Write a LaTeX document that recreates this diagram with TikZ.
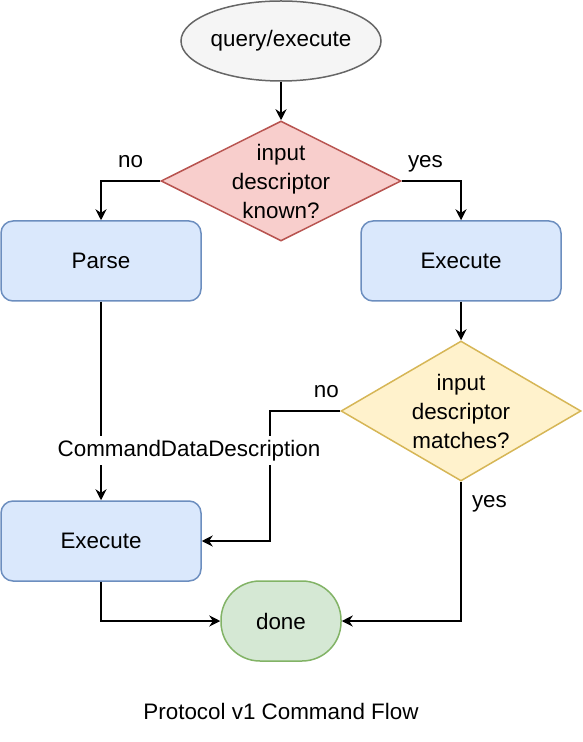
\documentclass[tikz,border=0pt]{standalone}
\usepackage{fontspec}
\setmainfont{Liberation Sans}
\usetikzlibrary{arrows.meta,shapes.geometric}
\definecolor{grayfill}{HTML}{F5F5F5}
\definecolor{grayline}{HTML}{666666}
\definecolor{redfill}{HTML}{F8CECC}
\definecolor{redline}{HTML}{B85450}
\definecolor{bluefill}{HTML}{DAE8FC}
\definecolor{blueline}{HTML}{6C8EBF}
\definecolor{yelfill}{HTML}{FFF2CC}
\definecolor{yelline}{HTML}{D6B656}
\definecolor{grnfill}{HTML}{D5E8D4}
\definecolor{grnline}{HTML}{82B366}
\tikzset{
  txt/.style  ={font=\fontsize{11.2}{14.5}\selectfont},
  start/.style={ellipse,draw=grayline,fill=grayfill,line width=0.75pt,minimum width=100pt,minimum height=40pt,inner sep=0pt,txt},
  dec/.style  ={diamond,line width=0.75pt,minimum width=120pt,minimum height=60pt,inner sep=-12pt,align=center,txt},
  dec1/.style ={draw=redline,fill=redfill},
  dec2/.style ={draw=yelline,fill=yelfill,minimum height=70pt},
  proc/.style ={rectangle,rounded corners=6pt,draw=blueline,fill=bluefill,line width=0.75pt,minimum width=100pt,minimum height=40pt,inner sep=0pt,txt},
  fin/.style  ={rectangle,rounded corners=19.5pt,draw=grnline,fill=grnfill,line width=0.75pt,minimum width=60pt,minimum height=40pt,inner sep=0pt,txt},
  lbl/.style  ={inner sep=2pt,text height=1.6ex,text depth=0.4ex,txt},
  ar/.style   ={-{Stealth[length=5.5pt,width=5.5pt,inset=1.8pt]},line width=1pt},
}
\begin{document}
\begin{tikzpicture}[x=0.5pt,y=-0.5pt]
  \useasboundingbox (0,0) rectangle (582,742);
  \node[start] (q) at (281,41){query/execute};
  \node[dec,dec1] (d1) at (281,181){input\\descriptor\\known?};
  \node[proc] (parse) at (101,261){Parse};
  \node[proc] (ex1) at (461,261){Execute};
  \node[dec,dec2] (d2) at (461,411){input\\descriptor\\matches?};
  \node[proc] (ex2) at (101,541){Execute};
  \node[fin] (done) at (281,621){done};
  \node[txt] (title) at (281,711){Protocol v1 Command Flow};
  \draw[ar] (q) -- (d1);
  \draw[ar] (d1.west) -| node[lbl,pos=0.25,above=2pt]{no} (parse.north);
  \draw[ar] (d1.east) -| node[lbl,pos=0.2,above=2pt]{yes} (ex1.north);
  \draw[ar] (ex1) -- (d2);
  \draw[ar] (d2.west) -- node[lbl,pos=0.2,above=2pt]{no} ++(-70,0) |- (ex2.east);
  \draw[ar] (d2.south) |- node[lbl,pos=0.07,right=3pt]{yes} (done.east);
  \draw[ar] (parse) -- node[lbl,fill=white,pos=0.75,xshift=44pt]{CommandDataDescription} (ex2);
  \draw[ar] (ex2.south) |- (done.west);
\end{tikzpicture}
\end{document}
